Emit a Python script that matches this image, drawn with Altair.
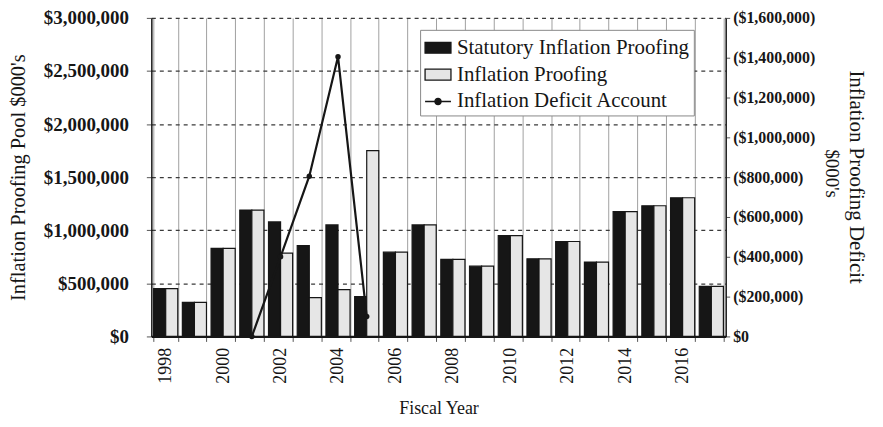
import altair as alt
import pandas as pd

years = [str(y) for y in range(1998, 2018)]
statutory = [450000, 320000, 830000, 1190000, 1078000, 856000, 1050000, 375000, 794000, 1050000,
             725000, 662000, 950000, 731000, 894000, 700000, 1175000, 1231000, 1306000, 472000]
proofing = [450000, 320000, 830000, 1190000, 785000, 366000, 440000, 1750000, 794000, 1050000,
            725000, 662000, 950000, 731000, 894000, 700000, 1175000, 1231000, 1306000, 472000]
deficit_years = ["2001", "2002", "2003", "2004", "2005"]
deficit = [0, 400000, 805000, 1405000, 100000]
series = ["Statutory Inflation Proofing", "Inflation Proofing", "Inflation Deficit Account"]
left_ticks = [0, 500000, 1000000, 1500000, 2000000, 2500000, 3000000]
right_ticks = [0, 200000, 400000, 600000, 800000, 1000000, 1200000, 1400000, 1600000]

bars_df = pd.DataFrame({
    "year": years * 2,
    "series": [series[0]] * len(years) + [series[1]] * len(years),
    "value": statutory + proofing,
})
line_df = pd.DataFrame({"year": deficit_years, "deficit": deficit})

SERIF = "Liberation Serif"
INK = "#161616"

rect_path = "M-1,-0.42H1V0.42H-1Z"
line_path = "M-1,0H1M0.24,0A0.24,0.24,0,1,1,-0.24,0A0.24,0.24,0,1,1,0.24,0Z"
sym_expr = ("datum.label == 'Inflation Deficit Account' ? '" + line_path + "' : '" + rect_path + "'")

x_scale = alt.Scale(domain=years, paddingInner=0.16, paddingOuter=0.08)

bars = alt.Chart(bars_df).mark_bar(stroke=INK, strokeWidth=1.2).encode(
    x=alt.X("year:N", sort=years, scale=x_scale,
            axis=alt.Axis(title="Fiscal Year", labelAngle=-90,
                          labelExpr="toNumber(datum.label) % 2 == 0 ? datum.label : ''",
                          tickBand="extent", grid=True, gridColor="#a0a0a0", gridWidth=1,
                          ticks=True, tickSize=5, tickColor="#555",
                          domainColor=INK, domainWidth=2.2,
                          labelFont=SERIF, labelFontSize=18, labelColor=INK, labelPadding=6,
                          titleFont=SERIF, titleFontSize=18, titleFontWeight="normal",
                          titleColor=INK, titlePadding=16)),
    xOffset=alt.XOffset("series:N", sort=series[:2],
                        scale=alt.Scale(domain=series[:2], paddingInner=0, paddingOuter=0)),
    y=alt.Y("value:Q", scale=alt.Scale(domain=[0, 3000000]),
            axis=alt.Axis(title="Inflation Proofing Pool $000's", values=left_ticks,
                          labelExpr="'$' + format(datum.value, ',')",
                          grid=True, gridDash=[4, 4], gridColor="#3a3a3a", gridWidth=1.2,
                          ticks=True, tickSize=5, tickColor="#555",
                          domainColor=INK, domainWidth=1.5,
                          labelFont=SERIF, labelFontSize=19, labelFontWeight="bold",
                          labelColor=INK, labelPadding=18,
                          titleFont=SERIF, titleFontSize=20.5, titleFontWeight="normal",
                          titleColor=INK, titlePadding=15)),
    color=alt.Color("series:N",
                    scale=alt.Scale(domain=series, range=[INK, "#e6e6e6", INK]),
                    legend=alt.Legend(orient="none", legendX=270, legendY=12, title=None,
                                      labelFont=SERIF, labelFontSize=21, labelColor=INK,
                                      labelOffset=5, labelLimit=400,
                                      symbolType=alt.ExprRef(sym_expr),
                                      symbolSize=676, symbolStrokeColor=INK,
                                      symbolStrokeWidth=1.3, symbolOpacity=1,
                                      strokeColor="#888", fillColor="white",
                                      padding=4, rowPadding=3)),
)

line = alt.Chart(line_df).mark_line(
    color=INK, strokeWidth=2.2,
    point=alt.OverlayMarkDef(filled=True, color=INK, size=30)
).encode(
    x=alt.X("year:N", sort=years, scale=x_scale),
    y=alt.Y("deficit:Q", scale=alt.Scale(domain=[0, 1600000]),
            axis=alt.Axis(orient="right", title="$000's", values=right_ticks,
                          labelExpr="datum.value == 0 ? '$0' : '($' + format(datum.value, ',') + ')'",
                          grid=False, ticks=True, tickSize=4, tickColor="#555",
                          domainColor=INK, domainWidth=1.5,
                          labelFont=SERIF, labelFontSize=16, labelFontWeight="bold",
                          labelColor=INK, labelPadding=3,
                          titleFont=SERIF, titleFontSize=19, titleFontWeight="normal",
                          titleColor=INK, titleAngle=90, titleAlign="center",
                          titleBaseline="middle", titleX=106, titleY=156)),
)

chart = alt.layer(bars, line).resolve_scale(y="independent").properties(
    width=577, height=320,
    title=alt.TitleParams("Inflation Proofing Deficit", orient="right", anchor="middle",
                          font=SERIF, fontSize=21, fontWeight="normal", color=INK, offset=6),
    background="white",
    padding={"left": 0, "top": 0, "right": 8, "bottom": 0},
).configure_view(stroke=None)

chart.save("out.html", embed_options={"renderer": "svg", "actions": False})
